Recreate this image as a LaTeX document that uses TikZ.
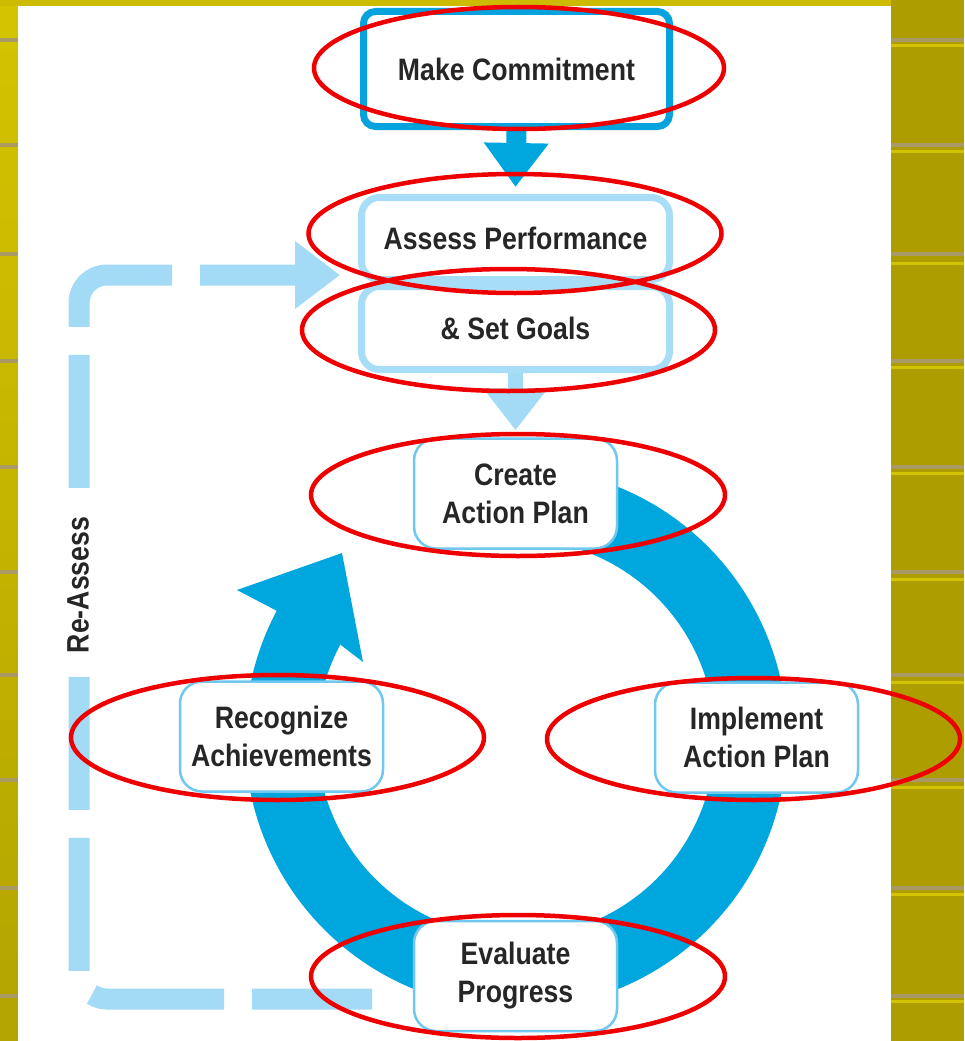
\documentclass[tikz,border=0pt]{standalone}
\usepackage{fontspec}
\setmainfont{Liberation Sans}[FakeStretch=0.86]
\usetikzlibrary{arrows.meta,shapes.geometric,calc}
\definecolor{olivebg}{HTML}{AD9D00}
\definecolor{olivelight}{HTML}{D4C300}
\definecolor{olivedark}{HTML}{B5A400}
\definecolor{stripe}{HTML}{A89A62}
\definecolor{ringblue}{HTML}{00A6DE}
\definecolor{mcblue}{HTML}{05A2DE}
\definecolor{dashblue}{HTML}{A3DBF6}
\definecolor{lightbox}{HTML}{A8DDF7}
\definecolor{thinbox}{HTML}{70C7F0}
\definecolor{annot}{HTML}{EE0000}
\definecolor{textgray}{HTML}{262626}
\tikzset{
  txt/.style={font=\fontsize{31}{38}\selectfont\bfseries, text=textgray, align=center},
  mcbox/.style={draw=mcblue, line width=7pt, rounded corners=12pt, fill=white,
    minimum width=306pt, minimum height=115pt, inner sep=0pt, txt},
  apbox/.style={draw=lightbox, line width=7pt, rounded corners=18pt, fill=white,
    minimum width=308pt, minimum height=82pt, inner sep=0pt, txt},
  cyclebox/.style={draw=thinbox, line width=2.5pt, rounded corners=22pt, fill=white,
    minimum width=203pt, minimum height=110pt, inner sep=0pt, txt},
  redring/.style={draw=annot, line width=4.5pt, ellipse, inner sep=0pt},
  dashline/.style={draw=dashblue, line width=21pt, dash pattern=on 133pt off 28pt,
    dash phase=13pt, rounded corners=28pt, -{Triangle[length=45pt,width=65pt]}},
  darkarrow/.style={draw=ringblue, line width=20pt, -{Triangle[length=44pt,width=62pt]}},
  lightarrow/.style={draw=dashblue, line width=15pt, -{Triangle[length=42pt,width=62pt]}},
}
\begin{document}
\begin{tikzpicture}[x=1pt,y=-1pt]
\useasboundingbox (0,0) rectangle (964,1041);
% textured background
\fill[olivebg] (0,0) rectangle (964,1041);
\shade[top color=olivelight, bottom color=olivedark] (0,0) rectangle (18,1041);
\fill[olivelight!80!olivebg] (0,0) rectangle (891,6);
\foreach \yy in {38,143,252,359,465,570,673,778,886,994}{
  \fill[stripe] (0,\yy) rectangle (18,\yy+4);
  \fill[stripe] (891,\yy) rectangle (964,\yy+4);
}
\foreach \yy in {44,150,262,366,472,578,681,786,893,1000}{
  \fill[olivelight] (891,\yy) rectangle (964,\yy+3);
}
% white panel
\fill[white] (18,6) rectangle (891,1041);

% big circular arrow
\fill[ringblue] (516,738) ++(-78:271) arc[start angle=-78, end angle=208, radius=271]
  -- (237,590) -- (342,553) -- (363,662)
  -- ($(516,738)+(208:199)$) arc[start angle=208, end angle=-78, radius=199] -- cycle;

% re-assess dashed loop
\coordinate (raStart) at (372,999);
\coordinate (raLeft) at (79,640);
\coordinate (raTip) at (340,275);
\draw[dashline] (raStart) -- (raStart -| raLeft) -- (raLeft |- raTip) -- (raTip);
\node[txt, rotate=90, fill=white, inner sep=2pt] (ra) at (78,585) {Re-Assess};

% boxes
\node[mcbox] (mc) at (516.5,69) {Make Commitment};
\node[apbox] (ap1) at (515.5,238.5) {Assess Performance};
\node[apbox, minimum height=83pt] (ap2) at (515.5,328) {\& Set Goals};
\node[cyclebox] (cr) at (515.5,493.5) {Create\\Action Plan};
\node[cyclebox] (rc) at (281.5,736.5) {Recognize\\Achievements};
\node[cyclebox] (im) at (756.5,737.5) {Implement\\Action Plan};
\node[cyclebox] (ev) at (515.5,976) {Evaluate\\Progress};

% straight arrows
\draw[darkarrow] (mc.south) -- ([yshift=7pt]ap1.north);
\draw[lightarrow] (ap2.south) -- ([yshift=7pt]cr.north);

% red annotation ellipses
\node[redring, minimum width=410pt, minimum height=122pt] (e1) at (519,68) {};
\node[redring, minimum width=413pt, minimum height=119pt] (e2) at (515,233.5) {};
\node[redring, minimum width=413pt, minimum height=122pt] (e3) at (508.5,330) {};
\node[redring, minimum width=414pt, minimum height=122pt] (e4) at (518,495) {};
\node[redring, minimum width=413pt, minimum height=125pt] (e5) at (277.5,737.5) {};
\node[redring, minimum width=413pt, minimum height=122pt] (e6) at (753.5,739) {};
\node[redring, minimum width=414pt, minimum height=123pt] (e7) at (518,976.5) {};
\end{tikzpicture}
\end{document}
